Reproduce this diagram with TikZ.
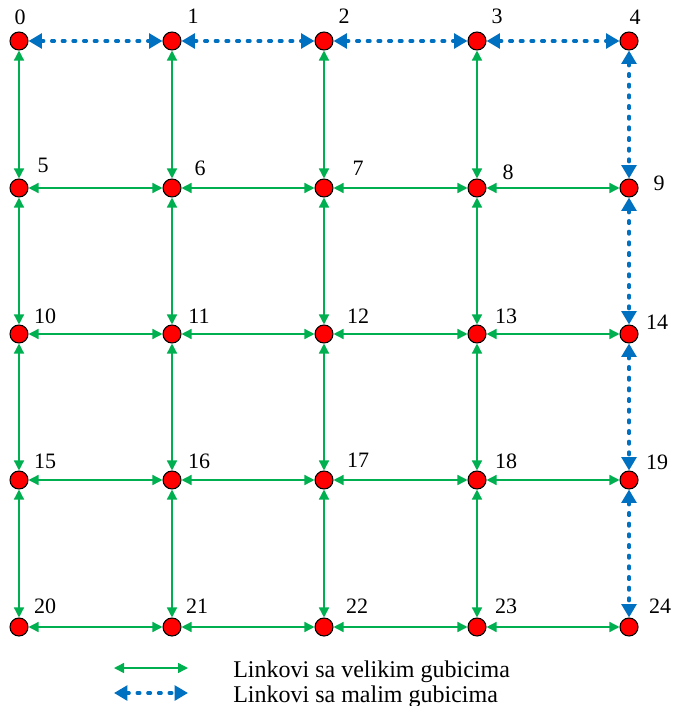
\documentclass[tikz,border=0pt]{standalone}
\usepackage{fontspec}
\setmainfont{Liberation Serif}
\usetikzlibrary{arrows.meta}
\definecolor{lgreen}{RGB}{0,176,80}
\definecolor{lblue}{RGB}{0,112,192}
\tikzset{
  vertex/.style={circle, draw=black, line width=0.8pt, fill=red, minimum size=13.5pt, inner sep=0pt},
  numlabel/.style={font=\fontsize{16.5}{18}\selectfont, inner sep=0pt},
  biglink/.style={draw=lgreen, line width=1.1pt, {Triangle[length=7.5pt,width=7.5pt]}-{Triangle[length=7.5pt,width=7.5pt]}},
  smalllink/.style={draw=lblue, line width=2.5pt, line cap=round, dash pattern=on 2pt off 6pt, {Triangle[length=10pt,width=11pt,line cap=butt]}-{Triangle[length=10pt,width=11pt,line cap=butt]}},
  legtext/.style={font=\fontsize{18}{20}\selectfont, inner sep=0pt, anchor=base west}
}
\begin{document}
\begin{tikzpicture}[x=0.75pt,y=-0.75pt]
\useasboundingbox (0,0) rectangle (674,706);
% nodes
\foreach \r in {0,...,4}{
  \foreach \c in {0,...,4}{
    \pgfmathtruncatemacro{\i}{5*\r+\c}
    \pgfmathsetmacro{\xx}{{19,172,324,477,629}[\c]}
    \pgfmathsetmacro{\yy}{{41,188,334,480,627}[\r]}
    \node[vertex] (n\i) at (\xx,\yy) {};
  }
}
% labels
\foreach \t/\lx/\ly in {0/20/17,1/193/16,2/344/16,3/497/16,4/635/17,
  5/43/165,6/200/168,7/358/168,8/508/172,9/659/183,
  10/45/316,11/199/316,12/358/316,13/506/316,14/657/322,
  15/45/461,16/199/461,17/358/460,18/506/461,19/657/462,
  20/45/606,21/197/606,22/357/606,23/506/606,24/660/606}{
  \node[numlabel] (l\t) at (\lx,\ly) {\t};
}
% horizontal links
\foreach \r in {0,...,4}{
  \foreach \c in {0,...,3}{
    \pgfmathtruncatemacro{\a}{5*\r+\c}
    \pgfmathtruncatemacro{\b}{5*\r+\c+1}
    \ifnum\r=0
      \draw[smalllink] (n\a) -- (n\b);
    \else
      \draw[biglink] (n\a) -- (n\b);
    \fi
  }
}
% vertical links
\foreach \r in {0,...,3}{
  \foreach \c in {0,...,4}{
    \pgfmathtruncatemacro{\a}{5*\r+\c}
    \pgfmathtruncatemacro{\b}{5*\r+\c+5}
    \ifnum\c=4
      \draw[smalllink] (n\a) -- (n\b);
    \else
      \draw[biglink] (n\a) -- (n\b);
    \fi
  }
}
% legend
\coordinate (g1) at (114,668);
\coordinate (g2) at (188,668);
\coordinate (b1) at (114,693);
\coordinate (b2) at (188,693);
\draw[biglink] (g1) -- (g2);
\draw[smalllink] (b1) -- (b2);
\node[legtext] (t1) at (233,677) {Linkovi sa velikim gubicima};
\node[legtext] (t2) at (233,702) {Linkovi sa malim gubicima};
\end{tikzpicture}
\end{document}
